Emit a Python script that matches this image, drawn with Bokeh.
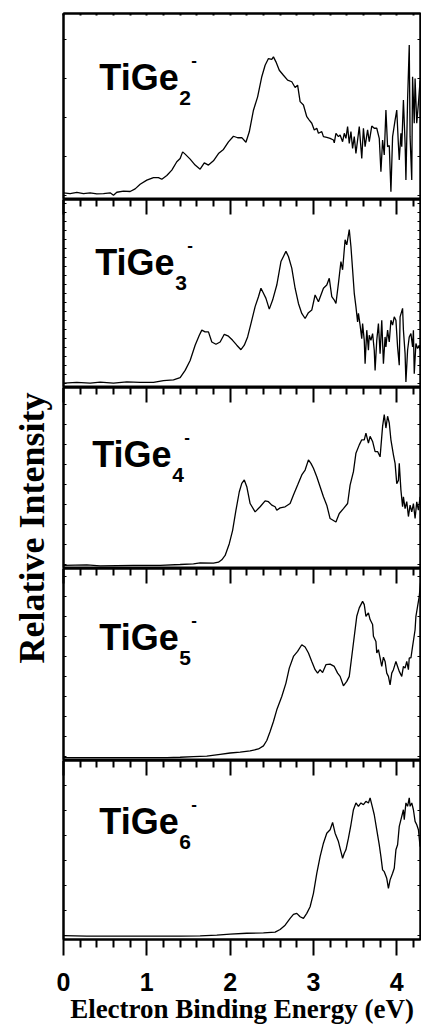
import numpy as np
from bokeh.plotting import figure
from bokeh.layouts import column, row
from bokeh.models import Range1d, LinearAxis, FixedTicker, Label
from bokeh.embed import file_html
from bokeh.resources import INLINE

# ---------------- data ----------------
SPECIES_SUB = ["2", "3", "4", "5", "6"]

E2 = [0.00,0.08,0.16,0.24,0.32,0.40,0.48,0.56,0.60,0.64,
      0.72,0.80,0.86,0.92,1.00,1.08,1.14,1.18,1.24,1.30,
      1.36,1.40,1.43,1.46,1.52,1.58,1.64,1.69,1.74,1.80,
      1.86,1.92,1.98,2.04,2.09,2.14,2.19,2.23,2.28,2.33,
      2.38,2.42,2.46,2.50,2.52,2.55,2.59,2.64,2.69,2.74,
      2.78,2.81,2.84,2.88,2.92,2.95,2.98,3.01,3.04,3.06,
      3.10,3.12,3.16,3.20,3.24,3.25,3.27,3.30,3.32,3.35,
      3.37,3.39,3.41,3.43,3.45,3.47,3.49,3.51,3.53,3.55,
      3.58,3.60,3.62,3.65,3.67,3.70,3.73,3.76,3.79,3.81,
      3.83,3.85,3.87,3.89,3.91,3.93,3.95,3.98,4.00,4.02,
      4.03,4.05,4.06,4.08,4.10,4.11,4.13,4.15,4.16,4.18,
      4.19,4.21,4.22,4.24,4.26,4.28]
I2 = [0.036,0.032,0.038,0.032,0.036,0.030,0.032,0.036,0.023,0.039,
      0.045,0.043,0.057,0.082,0.104,0.118,0.118,0.109,0.129,0.158,
      0.203,0.220,0.256,0.244,0.217,0.185,0.163,0.197,0.185,0.208,
      0.247,0.269,0.310,0.340,0.332,0.333,0.308,0.364,0.480,0.552,
      0.660,0.722,0.758,0.753,0.767,0.740,0.695,0.668,0.642,0.633,
      0.602,0.615,0.526,0.508,0.445,0.427,0.410,0.374,0.383,0.356,
      0.365,0.338,0.334,0.329,0.320,0.305,0.356,0.338,0.347,0.311,
      0.356,0.329,0.392,0.302,0.365,0.275,0.338,0.248,0.320,0.392,
      0.221,0.383,0.284,0.374,0.311,0.395,0.383,0.383,0.329,0.150,
      0.320,0.239,0.481,0.284,0.290,0.042,0.338,0.427,0.481,0.293,
      0.212,0.356,0.284,0.535,0.302,0.105,0.535,0.831,0.338,0.105,
      0.660,0.410,0.651,0.410,0.517,0.640]

E3 = [0.00,0.16,0.32,0.44,0.60,0.76,0.92,1.08,1.20,1.32,
      1.40,1.46,1.52,1.58,1.63,1.66,1.70,1.74,1.78,1.83,
      1.88,1.93,1.98,2.03,2.08,2.13,2.17,2.21,2.25,2.30,
      2.34,2.37,2.40,2.43,2.47,2.51,2.56,2.61,2.64,2.67,
      2.70,2.74,2.78,2.82,2.86,2.90,2.94,2.98,3.02,3.06,
      3.12,3.16,3.19,3.22,3.25,3.27,3.30,3.33,3.35,3.38,
      3.40,3.43,3.45,3.47,3.49,3.51,3.53,3.54,3.56,3.58,
      3.59,3.61,3.62,3.64,3.66,3.67,3.69,3.71,3.73,3.74,
      3.76,3.78,3.80,3.82,3.84,3.86,3.87,3.89,3.91,3.93,
      3.95,3.97,3.99,4.01,4.03,4.04,4.07,4.08,4.10,4.11,
      4.13,4.15,4.17,4.19,4.20,4.21,4.23,4.25,4.27,4.28]
I3 = [0.023,0.027,0.023,0.029,0.023,0.030,0.027,0.027,0.037,0.041,
      0.052,0.091,0.144,0.225,0.278,0.305,0.296,0.296,0.242,0.230,
      0.242,0.283,0.273,0.251,0.225,0.201,0.225,0.269,0.340,0.430,
      0.483,0.528,0.501,0.474,0.417,0.465,0.545,0.670,0.697,0.724,
      0.697,0.635,0.528,0.447,0.394,0.367,0.398,0.412,0.492,0.456,
      0.528,0.545,0.581,0.483,0.465,0.447,0.554,0.670,0.626,0.786,
      0.759,0.840,0.750,0.626,0.501,0.430,0.349,0.394,0.332,0.260,
      0.340,0.251,0.127,0.305,0.198,0.278,0.251,0.287,0.198,0.091,
      0.251,0.340,0.180,0.358,0.127,0.269,0.216,0.305,0.242,0.358,
      0.332,0.376,0.358,0.216,0.118,0.376,0.421,0.305,0.180,0.030,
      0.198,0.269,0.287,0.216,0.305,0.073,0.234,0.207,0.225,0.198]

E4 = [0.00,0.28,0.44,0.84,1.16,1.40,1.56,1.64,1.80,1.86,
      1.90,1.94,1.99,2.03,2.07,2.11,2.14,2.17,2.20,2.24,
      2.30,2.36,2.42,2.46,2.50,2.54,2.56,2.60,2.66,2.72,
      2.76,2.81,2.86,2.90,2.94,2.97,3.00,3.04,3.08,3.12,
      3.16,3.20,3.27,3.31,3.36,3.41,3.44,3.48,3.51,3.55,
      3.58,3.61,3.63,3.66,3.68,3.71,3.74,3.77,3.80,3.83,
      3.85,3.87,3.89,3.91,3.93,3.96,3.98,4.00,4.02,4.03,
      4.05,4.07,4.08,4.10,4.12,4.14,4.16,4.18,4.20,4.22,
      4.24,4.26,4.28]
I4 = [0.017,0.020,0.015,0.017,0.017,0.022,0.026,0.031,0.030,0.035,
      0.048,0.072,0.137,0.211,0.322,0.424,0.470,0.489,0.452,0.359,
      0.313,0.341,0.374,0.369,0.350,0.341,0.322,0.335,0.341,0.359,
      0.406,0.461,0.517,0.544,0.600,0.581,0.554,0.507,0.452,0.396,
      0.350,0.276,0.257,0.304,0.331,0.359,0.461,0.535,0.637,0.683,
      0.711,0.711,0.748,0.693,0.730,0.702,0.646,0.646,0.617,0.785,
      0.850,0.776,0.841,0.804,0.711,0.628,0.581,0.469,0.487,0.581,
      0.433,0.341,0.396,0.331,0.370,0.287,0.350,0.313,0.359,0.276,
      0.368,0.322,0.396]

E5 = [0.00,0.44,0.84,1.24,1.40,1.56,1.72,1.88,2.00,2.12,
      2.24,2.34,2.40,2.44,2.48,2.52,2.56,2.62,2.67,2.71,
      2.76,2.81,2.86,2.90,2.94,2.98,3.02,3.05,3.08,3.11,
      3.15,3.20,3.25,3.29,3.32,3.36,3.40,3.43,3.47,3.52,
      3.55,3.59,3.61,3.63,3.66,3.68,3.71,3.72,3.75,3.76,
      3.78,3.80,3.82,3.84,3.86,3.88,3.90,3.92,3.94,3.96,
      3.99,4.01,4.03,4.06,4.08,4.10,4.12,4.14,4.15,4.17,
      4.19,4.22,4.23,4.25,4.27,4.285]
I5 = [0.015,0.015,0.015,0.015,0.017,0.020,0.023,0.032,0.039,0.044,
      0.050,0.060,0.076,0.104,0.151,0.203,0.264,0.333,0.403,0.481,
      0.542,0.568,0.603,0.591,0.560,0.516,0.473,0.455,0.473,0.458,
      0.499,0.502,0.490,0.455,0.438,0.389,0.412,0.438,0.577,0.751,
      0.795,0.829,0.812,0.751,0.769,0.734,0.708,0.647,0.620,0.560,
      0.577,0.534,0.490,0.538,0.516,0.455,0.438,0.394,0.455,0.473,
      0.516,0.490,0.464,0.438,0.490,0.481,0.516,0.473,0.534,0.534,
      0.594,0.681,0.751,0.803,0.855,0.925]

E6 = [0.00,0.28,0.60,1.00,1.40,1.64,1.84,2.00,2.20,2.40,
      2.54,2.60,2.66,2.72,2.76,2.80,2.84,2.88,2.92,2.96,
      3.00,3.04,3.08,3.12,3.16,3.20,3.23,3.26,3.30,3.33,
      3.35,3.37,3.39,3.42,3.45,3.48,3.51,3.54,3.57,3.60,
      3.63,3.66,3.68,3.71,3.73,3.76,3.79,3.81,3.83,3.85,
      3.88,3.90,3.92,3.95,3.97,3.99,4.01,4.03,4.06,4.08,
      4.09,4.11,4.13,4.15,4.16,4.18,4.20,4.22,4.24,4.26,
      4.28]
I6 = [0.022,0.019,0.019,0.019,0.019,0.020,0.024,0.030,0.035,0.037,
      0.041,0.056,0.080,0.118,0.140,0.146,0.127,0.118,0.146,0.183,
      0.258,0.370,0.463,0.538,0.594,0.613,0.654,0.594,0.547,0.491,
      0.454,0.482,0.501,0.566,0.641,0.725,0.763,0.744,0.763,0.753,
      0.772,0.763,0.791,0.735,0.697,0.613,0.529,0.463,0.389,0.379,
      0.342,0.286,0.333,0.370,0.398,0.501,0.529,0.632,0.688,0.725,
      0.669,0.763,0.744,0.791,0.744,0.763,0.725,0.660,0.641,0.613,
      0.519]

ENERGIES = [E2, E3, E4, E5, E6]
INTENSITIES = [I2, I3, I4, I5, I6]

X_TICKS = [0, 1, 2, 3, 4]
X_TICK_LABELS = ["0", "1", "2", "3", "4"]
X_MINOR = [0.2, 0.4, 0.6, 0.8, 1.2, 1.4, 1.6, 1.8, 2.2, 2.4, 2.6, 2.8,
           3.2, 3.4, 3.6, 3.8, 4.2]
X_TITLE = "Electron Binding Energy (eV)"
Y_TITLE = "Relative Intensity"

# ---------------- layout / style ----------------
X_END = 4.285
FRAME_H = [186, 188, 181, 192, 179]
YTICK_STEP_PX = [39, 9, 20, 20, 25]
LBL_X = [0.43, 0.38, 0.345, 0.43, 0.43]
LBL_Y = [0.589, 0.599, 0.561, 0.577, 0.59]
LABEL_W = 56
PANEL_W = 7 + 357 + 1
TOP_B = 13
BOT_B = 87
TOTAL_H = TOP_B + sum(FRAME_H) + BOT_B

SANS = "Liberation Sans"
SERIF = "Liberation Serif"

x_range = Range1d(0, X_END)
figs = []
for i in range(5):
    first = i == 0
    last = i == 4
    h = FRAME_H[i] + (TOP_B if first else 0) + (BOT_B if last else 0)
    p = figure(width=PANEL_W, height=h, x_range=x_range, y_range=Range1d(0, 1),
               output_backend="svg", toolbar_location=None,
               x_axis_location=None, y_axis_location=None,
               min_border_left=7, min_border_right=1,
               min_border_top=TOP_B if first else 0,
               min_border_bottom=BOT_B if last else 0)
    p.grid.visible = False
    p.outline_line_color = "black"
    p.outline_line_width = 2
    p.background_fill_color = "white"
    p.border_fill_color = "white"

    # top axis: inward ticks
    top = LinearAxis(ticker=FixedTicker(ticks=X_TICKS, minor_ticks=X_MINOR))
    top.major_tick_out = 0
    top.minor_tick_out = 0
    top.major_tick_in = 2 if first else 15
    top.minor_tick_in = 2 if first else 7
    top.major_tick_line_width = 2
    top.minor_tick_line_width = 2
    top.axis_line_width = 2
    top.major_label_overrides = {t: "" for t in X_TICKS}
    top.major_label_text_font_size = "0px"
    top.major_label_standoff = 0
    p.add_layout(top, "above")

    # y ticks (no labels) left and right
    step = YTICK_STEP_PX[i] / FRAME_H[i]
    yt = list(np.arange(4.0 / FRAME_H[i], 1.0, step))
    for side in ("left", "right"):
        ax = LinearAxis(ticker=FixedTicker(ticks=yt, minor_ticks=[]))
        ax.major_tick_in = 3
        ax.major_tick_out = 0
        ax.minor_tick_in = 0
        ax.minor_tick_out = 0
        ax.major_tick_line_width = 1
        ax.axis_line_width = 2
        ax.major_label_overrides = {float(t): "" for t in yt}
        ax.major_label_text_font_size = "0px"
        ax.major_label_standoff = 0
        p.add_layout(ax, side)

    if last:
        bot = LinearAxis(ticker=FixedTicker(ticks=X_TICKS, minor_ticks=X_MINOR))
        bot.major_tick_out = 16
        bot.minor_tick_out = 8
        bot.major_tick_in = 0
        bot.minor_tick_in = 0
        bot.major_tick_line_width = 2
        bot.minor_tick_line_width = 2
        bot.axis_line_width = 2
        bot.major_label_overrides = {t: s for t, s in zip(X_TICKS, X_TICK_LABELS)}
        bot.major_label_text_font = SANS
        bot.major_label_text_font_style = "bold"
        bot.major_label_text_font_size = "25px"
        bot.major_label_text_color = "black"
        bot.major_label_standoff = 17
        bot.axis_label = X_TITLE
        bot.axis_label_text_font = SERIF
        bot.axis_label_text_font_style = "bold"
        bot.axis_label_text_font_size = "27px"
        bot.axis_label_text_color = "black"
        bot.axis_label_standoff = 0
        p.add_layout(bot, "below")

    p.line(ENERGIES[i], INTENSITIES[i], line_color="black", line_width=1.3)

    p.add_layout(Label(x=LBL_X[i], y=LBL_Y[i], y_offset=12, text="TiGe", text_font=SANS,
                       text_font_style="bold", text_font_size="36px",
                       text_align="left", text_baseline="alphabetic",
                       text_color="black"))
    p.add_layout(Label(x=LBL_X[i], y=LBL_Y[i], x_offset=80, y_offset=-8,
                       text=SPECIES_SUB[i], text_font=SANS,
                       text_font_style="bold", text_font_size="21px",
                       text_align="left", text_baseline="alphabetic",
                       text_color="black"))
    p.add_layout(Label(x=LBL_X[i], y=LBL_Y[i], x_offset=92, y_offset=30,
                       text="-", text_font=SANS,
                       text_font_style="bold", text_font_size="17px",
                       text_align="left", text_baseline="alphabetic",
                       text_color="black"))
    figs.append(p)

lab = figure(width=LABEL_W, height=TOTAL_H, x_range=Range1d(0, 1), y_range=Range1d(0, 1),
             output_backend="svg", toolbar_location=None,
             x_axis_location=None, y_axis_location=None,
             min_border_left=0, min_border_right=0, min_border_top=0, min_border_bottom=0)
lab.grid.visible = False
lab.outline_line_color = None
lab.add_layout(Label(x=31.0 / LABEL_W, y=1 - 527.5 / TOTAL_H, text=Y_TITLE, angle=np.pi / 2,
                     text_font=SERIF, text_font_style="bold", text_font_size="36px",
                     text_align="center", text_baseline="middle", text_color="black"))

layout = row(lab, column(*figs, spacing=0), spacing=0)

with open("out.html", "w") as f:
    f.write(file_html(layout, INLINE))
